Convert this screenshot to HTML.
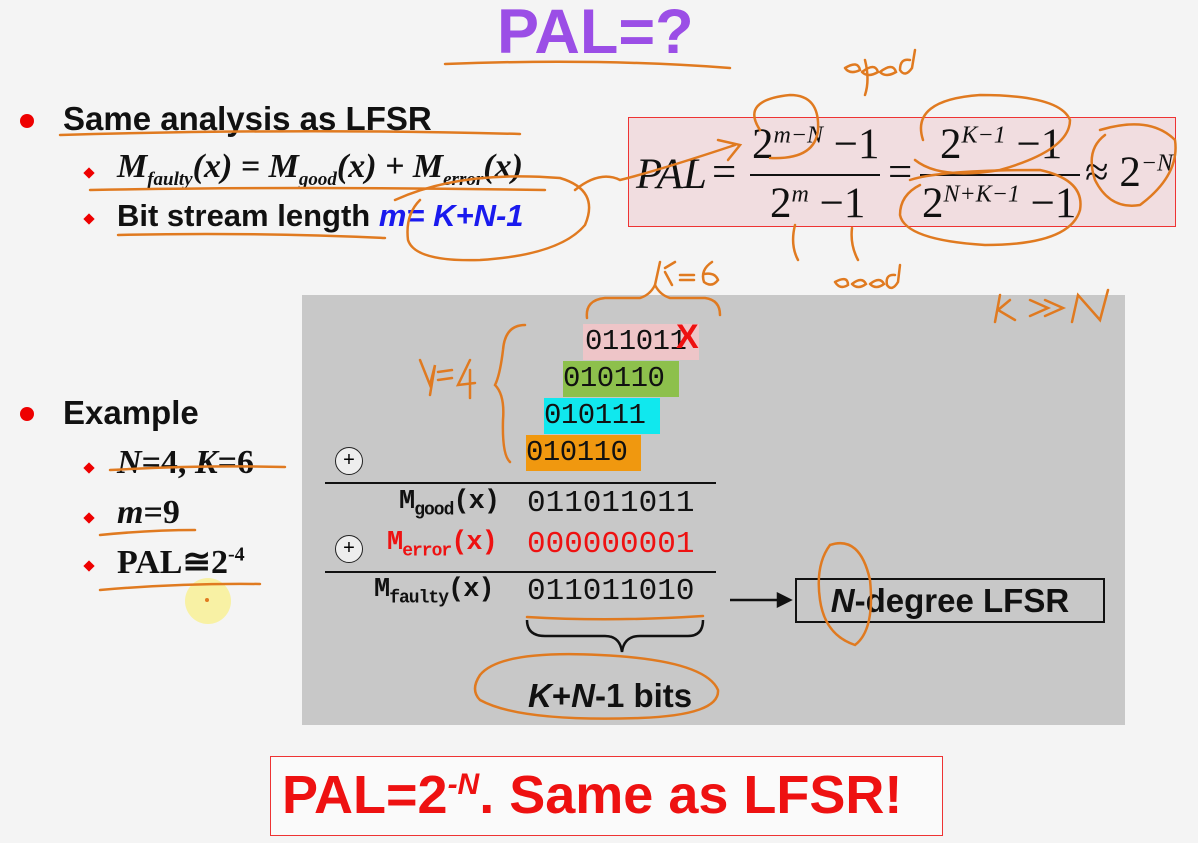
<!DOCTYPE html>
<html><head><meta charset="utf-8"><style>
body{margin:0;width:1198px;height:843px;background:#f4f4f4;position:relative;overflow:hidden;font-family:"Liberation Sans",sans-serif}
.a{position:absolute;white-space:nowrap}
.s{font-family:"Liberation Serif",serif}
.m{font-family:"Liberation Mono",monospace}
.dot{position:absolute;width:14px;height:14px;border-radius:50%;background:#e00}
.dia{position:absolute;width:8px;height:8px;background:#e00;transform:rotate(45deg)}
</style></head><body>
<div class="a" style="left:497px;top:-4px;font-size:63px;font-weight:bold;color:#9b4ee6">PAL=?</div>

<div class="dot" style="left:20px;top:114px"></div>
<div class="a" style="left:63px;top:100px;font-size:33px;font-weight:bold;color:#111">Same analysis as LFSR</div>
<div class="dia" style="left:85px;top:169px"></div>
<div class="a s" style="left:117px;top:148px;font-size:34px;font-weight:bold;font-style:italic;color:#111">M<sub style="font-size:19px">faulty</sub>(x) = M<sub style="font-size:19px">good</sub>(x) + M<sub style="font-size:19px">error</sub>(x)</div>
<div class="dia" style="left:85px;top:215px"></div>
<div class="a" style="left:117px;top:198px;font-size:31px;font-weight:bold;color:#111">Bit stream length <span style="color:#1a1aee;font-style:italic">m= K+N-1</span></div>

<div class="a" style="left:628px;top:117px;width:546px;height:108px;background:#f1dde0;border:1.5px solid #e33"></div>
<div class="a s" style="left:636px;top:150px;font-size:43px;font-style:italic;color:#111">PAL</div>
<div class="a s" style="left:712px;top:148px;font-size:43px;color:#111">=</div>
<div class="a s" style="left:752px;top:120px;font-size:43px;color:#111">2<sup style="font-size:24px;font-style:italic">m−N</sup> −1</div>
<div class="a" style="left:750px;top:174px;width:130px;height:1.5px;background:#111"></div>
<div class="a s" style="left:770px;top:179px;font-size:43px;color:#111">2<sup style="font-size:24px;font-style:italic">m</sup> −1</div>
<div class="a s" style="left:888px;top:148px;font-size:43px;color:#111">=</div>
<div class="a s" style="left:940px;top:120px;font-size:43px;color:#111">2<sup style="font-size:24px;font-style:italic">K−1</sup> −1</div>
<div class="a" style="left:920px;top:174px;width:160px;height:1.5px;background:#111"></div>
<div class="a s" style="left:922px;top:179px;font-size:43px;color:#111">2<sup style="font-size:24px;font-style:italic">N+K−1</sup> −1</div>
<div class="a s" style="left:1085px;top:148px;font-size:43px;color:#111">≈ 2<sup style="font-size:24px;font-style:italic">−N</sup></div>

<div class="dot" style="left:20px;top:407px"></div>
<div class="a" style="left:63px;top:394px;font-size:33px;font-weight:bold;color:#111">Example</div>
<div class="dia" style="left:85px;top:464px"></div>
<div class="a s" style="left:117px;top:444px;font-size:34px;font-weight:bold;color:#111"><i>N</i>=4, <i>K</i>=6</div>
<div class="dia" style="left:85px;top:514px"></div>
<div class="a s" style="left:117px;top:494px;font-size:34px;font-weight:bold;color:#111"><i>m</i>=9</div>
<div class="dia" style="left:85px;top:562px"></div>
<div class="a s" style="left:117px;top:542px;font-size:34px;font-weight:bold;color:#111">PAL≅2<sup style="font-size:20px">-4</sup></div>
<div class="a" style="left:185px;top:578px;width:46px;height:46px;border-radius:50%;background:rgba(250,240,130,.7)"></div>

<div class="a" style="left:302px;top:295px;width:823px;height:430px;background:#c8c8c8"></div>
<div class="a m" style="left:583px;top:324px;width:114px;height:36px;background:#eec5c8;font-size:29px;line-height:36px;color:#111;padding-left:2px;letter-spacing:-0.5px">011011</div>
<div class="a" style="left:676px;top:318px;font-size:34px;font-weight:bold;color:#e11">X</div>
<div class="a m" style="left:563px;top:361px;width:116px;height:36px;background:#8dc04c;font-size:29px;line-height:36px;color:#111;letter-spacing:-0.5px">010110</div>
<div class="a m" style="left:544px;top:398px;width:116px;height:36px;background:#10e8ee;font-size:29px;line-height:36px;color:#111;letter-spacing:-0.5px">010111</div>
<div class="a m" style="left:526px;top:435px;width:115px;height:36px;background:#f0980f;font-size:29px;line-height:36px;color:#111;letter-spacing:-0.5px">010110</div>
<div class="a" style="left:335px;top:447px;width:26px;height:26px;border:1.5px solid #222;border-radius:50%;text-align:center;line-height:25px;font-size:20px;background:#eee">+</div>
<div class="a" style="left:325px;top:482px;width:391px;height:2px;background:#111"></div>
<div class="a m" style="left:399px;top:487px;font-size:27px;font-weight:bold;color:#111;letter-spacing:-1px">M<sub style="font-size:18px">good</sub>(x)</div>
<div class="a m" style="left:527px;top:486px;font-size:31px;color:#111">011011011</div>
<div class="a" style="left:335px;top:535px;width:26px;height:26px;border:1.5px solid #222;border-radius:50%;text-align:center;line-height:25px;font-size:20px;background:#eee">+</div>
<div class="a m" style="left:387px;top:528px;font-size:27px;font-weight:bold;color:#e11;letter-spacing:-1px">M<sub style="font-size:18px">error</sub>(x)</div>
<div class="a m" style="left:527px;top:527px;font-size:31px;color:#e11">000000001</div>
<div class="a" style="left:325px;top:571px;width:391px;height:2px;background:#111"></div>
<div class="a m" style="left:374px;top:575px;font-size:27px;font-weight:bold;color:#111;letter-spacing:-1px">M<sub style="font-size:18px">faulty</sub>(x)</div>
<div class="a m" style="left:527px;top:574px;font-size:31px;color:#111">011011010</div>
<div class="a" style="left:795px;top:578px;width:306px;height:41px;border:2px solid #111;font-size:33px;font-weight:bold;line-height:41px;text-align:center;color:#111"><i>N</i>-degree LFSR</div>
<div class="a" style="left:528px;top:677px;font-size:33px;font-weight:bold;color:#111"><i>K</i>+<i>N</i>-1 bits</div>

<div class="a" style="left:270px;top:756px;width:671px;height:78px;border:1.5px solid #e33;background:#fafafa"></div>
<div class="a" style="left:282px;top:764px;font-size:54px;font-weight:bold;color:#e11">PAL=2<sup style="font-size:30px;font-style:italic">-N</sup>. Same as LFSR!</div>

<svg class="a" style="left:0;top:0" width="1198" height="843" viewBox="0 0 1198 843">
<g fill="none" stroke="#111" stroke-width="2.5">
<path d="M730 600 H780"/><path d="M778 594 L790 600 L778 606 Z" fill="#111"/>
<path d="M527 620 Q527 636 545 636 L605 636 Q620 636 622 652 Q624 636 640 636 L688 636 Q703 636 703 620"/>
</g>
<g fill="none" stroke="#e07a20" stroke-width="2.5" stroke-linecap="round">
<path d="M445 64 Q600 58 730 68"/>
<path d="M60 135 Q300 128 520 134"/>
<path d="M90 190 Q300 186 545 190"/>
<path d="M118 235 Q250 232 385 238"/>
<path d="M395 200 Q460 170 560 178 Q600 190 585 225 Q560 255 480 260 Q415 262 408 240 Q405 215 420 200"/>
<path d="M575 190 Q600 170 620 180 Q660 170 735 145"/>
<path d="M718 140 L740 145 L728 160"/>
<path d="M760 130 Q740 100 790 95 Q820 95 818 130 Q815 160 770 158"/>
<path d="M865 95 Q870 80 865 60"/>
<path d="M923 140 Q910 100 980 95 Q1060 95 1070 120 Q1070 150 1000 170 Q940 180 915 160"/>
<path d="M910 180 Q940 170 1040 170 Q1085 180 1080 210 Q1070 245 985 245 Q905 240 900 215 Q900 195 920 185"/>
<path d="M1100 130 Q1150 115 1175 140 Q1180 175 1140 205 Q1110 210 1095 180 Q1085 150 1105 135"/>
<path d="M795 225 Q790 245 798 260"/><path d="M852 228 Q850 245 858 260"/>
<path d="M587 318 Q585 300 605 298 L640 298 Q650 295 655 285 Q660 295 670 298 L705 298 Q720 300 720 315"/>
<path d="M525 325 Q505 325 503 350 Q500 375 495 385 Q505 395 503 420 Q502 455 510 462"/>
<path d="M110 470 Q200 465 285 467"/>
<path d="M100 535 Q150 530 195 530"/>
<path d="M100 590 Q180 583 260 584"/>
<path d="M527 617 Q610 622 703 616"/>
<path d="M480 675 Q500 650 600 655 Q705 660 718 690 Q720 715 640 718 Q520 722 480 700 Q470 690 480 675"/>
<path d="M830 545 Q860 535 870 580 Q875 630 855 645 Q825 635 820 600 Q815 565 830 545"/>
<path d="M420 360 L430 385 L435 365 L430 395"/><path d="M438 372 L452 370 M438 380 L452 378"/><path d="M470 360 L458 385 L475 383 M470 370 L470 398"/>
<path d="M655 285 L660 262 M665 268 L675 262 M665 272 L672 285"/><path d="M680 275 L694 275 M680 280 L694 280"/><path d="M712 262 Q700 270 704 282 Q712 288 718 280 Q715 272 704 274"/>
<path d="M845 68 Q858 60 860 70 Q850 75 845 68 M862 72 Q875 62 878 72 Q868 78 862 72 M880 72 Q893 62 896 72 Q886 78 880 72 M910 60 Q900 58 900 70 Q905 78 912 68 L915 50"/>
<path d="M835 282 Q848 275 848 285 Q840 290 835 282 M852 284 Q862 276 866 284 Q858 290 852 284 M870 284 Q880 276 884 284 Q876 290 870 284 M895 275 Q885 274 887 285 Q892 292 898 282 L900 265"/>
<path d="M1000 295 L995 322 M1010 300 L998 310 L1015 320"/><path d="M1030 300 L1048 308 L1030 316 M1045 300 L1063 308 L1045 316"/><path d="M1072 322 L1078 295 L1100 320 L1108 290"/>
</g>
<circle cx="207" cy="600" r="2" fill="#e07a20"/>
</svg>
</body></html>
